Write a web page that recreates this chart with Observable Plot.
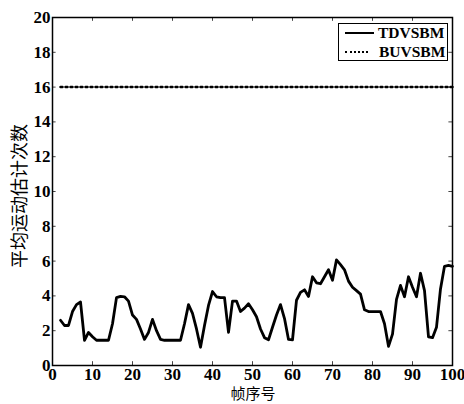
<!DOCTYPE html>
<html><head><meta charset="utf-8">
<script src="https://cdn.jsdelivr.net/npm/d3@7"></script>
<script src="https://cdn.jsdelivr.net/npm/@observablehq/plot@0.6"></script>
<style>
body{margin:0;background:#fff;}
#wrap{position:relative;width:464px;height:404px;}
#wrap svg text{font-family:"Liberation Serif",serif;}
#wrap svg g[aria-label="x-axis tick label"] text, #wrap svg g[aria-label="y-axis tick label"] text{font-family:"Liberation Serif",serif;font-weight:bold;font-size:17px;fill:#000;}
.legend{position:absolute;left:338px;top:23px;width:108px;height:36px;border:1px solid #000;background:#fff;font-family:"Liberation Serif",serif;font-weight:bold;font-size:15.5px;line-height:17px;}
.legend div{position:absolute;left:6px;display:flex;align-items:center;}
.legend span.s{display:inline-block;}
</style>
</head><body>
<div id="wrap"></div>
<script>
const frames = [2,3,4,5,6,7,8,9,10,11,12,13,14,15,16,17,18,19,20,21,22,23,24,25,26,27,28,29,30,31,32,33,34,35,36,37,38,39,40,41,42,43,44,45,46,47,48,49,50,51,52,53,54,55,56,57,58,59,60,61,62,63,64,65,66,67,68,69,70,71,72,73,74,75,76,77,78,79,80,81,82,83,84,85,86,87,88,89,90,91,92,93,94,95,96,97,98,99,100];
const tdvsbm = [2.6,2.3,2.3,3.1,3.5,3.65,1.45,1.9,1.65,1.45,1.45,1.45,1.45,2.4,3.9,3.97,3.95,3.7,2.9,2.65,2.1,1.5,1.9,2.65,2.0,1.5,1.45,1.45,1.45,1.45,1.45,2.4,3.5,3.0,2.1,1.05,2.3,3.45,4.25,3.95,3.9,3.9,1.9,3.7,3.7,3.1,3.3,3.55,3.2,2.8,2.1,1.6,1.48,2.2,2.9,3.5,2.7,1.5,1.48,3.75,4.2,4.35,3.97,5.1,4.75,4.7,5.1,5.5,4.9,6.07,5.8,5.5,4.85,4.5,4.3,4.1,3.2,3.1,3.1,3.1,3.1,2.4,1.1,1.8,3.8,4.6,3.95,5.1,4.5,3.95,5.3,4.3,1.65,1.6,2.2,4.4,5.7,5.75,5.7];
const buvsbm = frames.map(() => 16);
const xTicks = [0,10,20,30,40,50,60,70,80,90,100];
const yTicks = [0,2,4,6,8,10,12,14,16,18,20];
const seriesNames = ["TDVSBM","BUVSBM"];
const xLabel = "帧序号";
const yLabel = "平均运动估计次数";

const td = frames.map((f,i)=>({x:f,y:tdvsbm[i]}));
const bu = frames.map((f,i)=>({x:f,y:buvsbm[i]}));

const chart = Plot.plot({
  width:464, height:404,
  marginLeft:52, marginRight:12, marginTop:17, marginBottom:39,
  style:{fontFamily:"'Liberation Serif', serif", fontSize:"17px", color:"#000", background:"#fff"},
  x:{domain:[0,100]},
  y:{domain:[0,20]},
  marks:[
    Plot.axisX({ticks:xTicks, tickSize:0, tickPadding:2, label:null}),
    Plot.axisY({ticks:yTicks, tickSize:0, tickPadding:2, label:null}),
    Plot.ruleX(xTicks.slice(1,-1),{y1:0,y2:0.22,stroke:"#444",strokeWidth:1}),
    Plot.ruleX(xTicks.slice(1,-1),{y1:19.78,y2:20,stroke:"#444",strokeWidth:1}),
    Plot.ruleY(yTicks.slice(1,-1),{x1:0,x2:0.9,stroke:"#444",strokeWidth:1}),
    Plot.ruleY(yTicks.slice(1,-1),{x1:99.1,x2:100,stroke:"#444",strokeWidth:1}),
    Plot.line(bu,{x:"x",y:"y",stroke:"#000",strokeWidth:2.5,strokeDasharray:"2,3"}),
    Plot.line(td,{x:"x",y:"y",stroke:"#000",strokeWidth:2.8,strokeLinejoin:"round"}),
    Plot.frame({stroke:"#000",strokeWidth:1.5})
  ]
});
const wrap = document.getElementById("wrap");
wrap.appendChild(chart);
const svg = d3.select(chart);
svg.append("text").attr("x",253).attr("y",399).attr("text-anchor","middle").attr("fill","#000")
  .style("font-family","'Noto Sans CJK SC'").style("font-size","15px").text(xLabel);
svg.append("text").attr("transform","translate(26,196) rotate(-90)").attr("text-anchor","middle").attr("fill","#000")
  .style("font-family","'Noto Sans CJK SC'").style("font-size","18px").text(yLabel);

const lg = document.createElement("div");
lg.className="legend";
lg.innerHTML = `<div style="top:0px"><span class="s" style="border-top:2.5px solid #000;width:29px;margin-right:4px"></span>${seriesNames[0]}</div>
<div style="top:19px"><span class="s" style="border-top:2.5px dotted #000;width:23px;margin-right:11px"></span>${seriesNames[1]}</div>`;
wrap.appendChild(lg);
</script>
</body></html>
